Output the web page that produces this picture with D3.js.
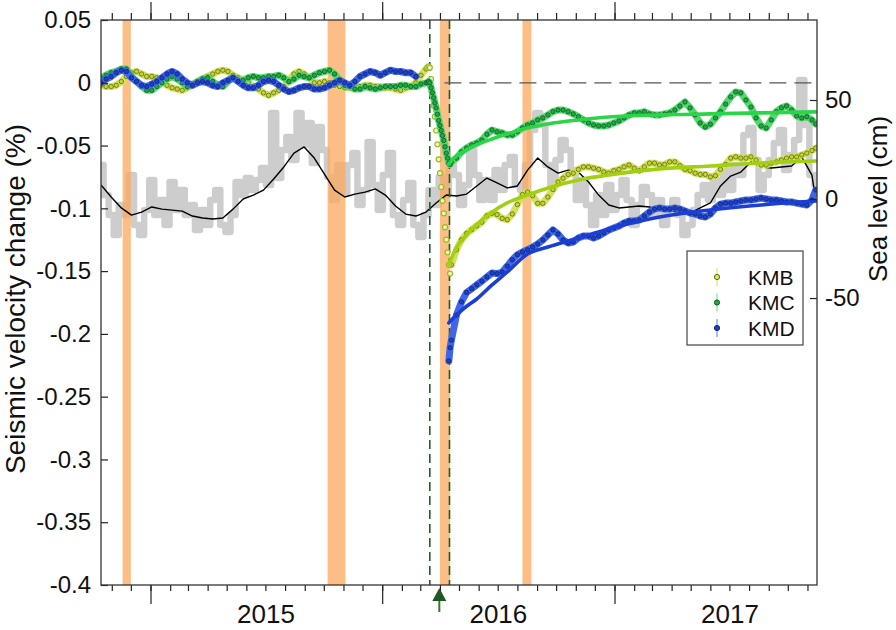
<!DOCTYPE html>
<html><head><meta charset="utf-8">
<script src="https://cdn.jsdelivr.net/npm/d3@7"></script>
<style>
body{margin:0;background:#fff}
text{font-family:"Liberation Sans",Arial,Helvetica,sans-serif;fill:#111}
</style>
</head><body>
<svg id="c" width="896" height="630"></svg>
<script>
// ---------- time grid (days after 2014-10-15) ----------
const START = new Date(2014, 9, 15);
const END = new Date(2017, 10, 16);
const preDays = d3.range(0, 513, 8);                 // 65 samples
const kmdPreDays = preDays.slice(0, 63);
const dropDays = d3.range(514, 551, 2);              // 19 samples
const postDays = d3.range(552, 1121, 8).concat([1126]); // 73 samples
const kmdDropDays = [548, 550];
const fitDays = [548, 552, 560, 576, 592, 616, 640, 672, 704, 752, 800, 880, 960, 1040, 1126];
const seaDays = d3.range(0, 1129, 8);                // 142 samples
const smoothDays = d3.range(0, 1121, 16).concat([1126]); // 72 samples

// ---------- seismic velocity change (%) ----------
const kmbPre = [-0.002,-0.003,-0.003,-0.002,0.001,0.005,0.008,0.009,0.007,0.005,
  0.005,0.004,0.001,-0.002,-0.004,-0.005,-0.006,-0.004,-0.001,0.001,
  0.003,0.005,0.007,0.009,0.010,0.009,0.006,0.004,0.002,0.000,
  -0.003,-0.005,-0.008,-0.010,-0.008,-0.006,-0.003,0.002,0.007,0.009,
  0.007,0.004,0.000,0.000,0.001,0.000,-0.002,-0.003,-0.004,-0.004,
  -0.003,-0.003,-0.002,-0.002,-0.003,-0.003,-0.004,-0.004,-0.005,-0.006,
  -0.004,-0.003,0.000,0.006,0.011];
const kmbDrop = [0.012,0.013,0.012,0.003,-0.008,-0.018,-0.027,-0.038,-0.049,-0.061,
  -0.072,-0.083,-0.094,-0.104,-0.115,-0.125,-0.135,-0.145,-0.152];
const kmbPost = [-0.145,-0.133,-0.125,-0.120,-0.117,-0.114,-0.111,-0.106,-0.104,-0.105,
  -0.108,-0.109,-0.1045,-0.097,-0.089,-0.087,-0.090,-0.096,-0.096,-0.091,
  -0.085,-0.079,-0.076,-0.073,-0.072,-0.069,-0.067,-0.067,-0.068,-0.069,
  -0.071,-0.072,-0.070,-0.069,-0.067,-0.0655,-0.068,-0.070,-0.067,-0.064,
  -0.064,-0.0655,-0.065,-0.063,-0.063,-0.066,-0.069,-0.070,-0.072,-0.073,
  -0.073,-0.075,-0.074,-0.069,-0.065,-0.060,-0.059,-0.060,-0.060,-0.059,
  -0.0615,-0.0655,-0.0655,-0.064,-0.063,-0.0615,-0.060,-0.059,-0.059,-0.0575,
  -0.056,-0.054,-0.052];
const kmbFit = [-0.145,-0.140,-0.1315,-0.121,-0.113,-0.103,-0.0957,-0.0894,-0.0838,-0.0774,
  -0.0734,-0.0686,-0.0663,-0.0639,-0.0623];

const kmcPre = [0.004,0.006,0.008,0.009,0.011,0.011,0.005,0.001,-0.003,-0.006,
  -0.006,-0.003,0.000,0.003,0.005,0.003,0.000,-0.003,-0.002,0.001,
  0.003,0.004,0.001,-0.002,-0.003,0.001,0.004,0.002,0.002,0.004,
  0.005,0.004,0.004,0.005,0.005,0.006,0.004,0.001,0.003,0.006,
  0.005,0.004,0.006,0.008,0.009,0.010,0.007,0.002,-0.002,-0.003,
  -0.005,-0.005,-0.003,-0.004,-0.005,-0.004,-0.003,-0.003,-0.003,-0.002,
  -0.002,-0.003,-0.003,-0.001,0.000];
const kmcDrop = [0.000,0.001,0.000,-0.004,-0.008,-0.012,-0.016,-0.020,-0.025,-0.030,
  -0.034,-0.038,-0.042,-0.046,-0.051,-0.056,-0.060,-0.064,-0.065];
const kmcPost = [-0.063,-0.060,-0.055,-0.052,-0.0495,-0.048,-0.0456,-0.041,-0.0376,-0.039,
  -0.040,-0.0416,-0.0416,-0.039,-0.036,-0.0336,-0.032,-0.0296,-0.028,-0.0256,
  -0.023,-0.0217,-0.0217,-0.023,-0.0248,-0.027,-0.0296,-0.032,-0.0336,-0.0344,
  -0.0344,-0.0336,-0.032,-0.0304,-0.028,-0.0256,-0.024,-0.024,-0.023,-0.0248,
  -0.0256,-0.0256,-0.0248,-0.024,-0.0217,-0.0185,-0.0153,-0.020,-0.0256,-0.032,
  -0.0352,-0.033,-0.028,-0.023,-0.017,-0.0113,-0.0073,-0.0081,-0.0137,-0.0193,
  -0.028,-0.0344,-0.036,-0.0296,-0.023,-0.020,-0.0185,-0.0217,-0.0264,-0.028,
  -0.027,-0.0296,-0.0328];
const kmcFit = [-0.0648,-0.0623,-0.0583,-0.0535,-0.0495,-0.0448,-0.0408,-0.036,-0.0328,-0.0296,
  -0.0272,-0.0256,-0.0248,-0.024,-0.0232];

const kmdPre = [0.000,0.003,0.005,0.008,0.010,0.009,0.004,0.001,-0.002,-0.003,
  -0.001,0.001,0.004,0.007,0.009,0.007,0.003,0.000,-0.002,0.000,
  0.001,0.000,-0.002,-0.003,0.000,0.002,0.004,0.001,-0.002,-0.004,
  -0.004,-0.002,0.001,0.002,0.001,-0.002,-0.005,-0.007,-0.006,-0.004,
  -0.003,-0.003,-0.005,-0.005,-0.004,-0.002,0.000,0.002,0.000,-0.002,
  0.001,0.005,0.007,0.009,0.008,0.006,0.008,0.010,0.009,0.009,
  0.008,0.008,0.005];
const kmdDrop = [-0.2215,-0.211];
const kmdPost = [-0.205,-0.185,-0.1745,-0.167,-0.164,-0.161,-0.158,-0.1547,-0.1515,-0.152,
  -0.1507,-0.146,-0.141,-0.137,-0.1348,-0.133,-0.1308,-0.1284,-0.1252,-0.1212,
  -0.1172,-0.1204,-0.1252,-0.1276,-0.1268,-0.1236,-0.122,-0.122,-0.1236,-0.122,
  -0.1196,-0.1172,-0.1156,-0.114,-0.1116,-0.110,-0.110,-0.1093,-0.1061,-0.103,
  -0.1006,-0.0997,-0.1006,-0.1006,-0.0997,-0.1006,-0.1021,-0.1037,-0.1045,-0.1061,
  -0.1069,-0.1045,-0.0997,-0.0966,-0.0958,-0.0958,-0.095,-0.0942,-0.0934,-0.0934,
  -0.0926,-0.0918,-0.0926,-0.0934,-0.0934,-0.0942,-0.095,-0.095,-0.0958,-0.0966,
  -0.0974,-0.0934,-0.0854];
const kmdFit = [-0.1913,-0.189,-0.1849,-0.178,-0.1722,-0.161,-0.1507,-0.1364,-0.1308,-0.1236,
  -0.1164,-0.1069,-0.1013,-0.0973,-0.0942];

// ---------- sea level (cm) ----------
const seaLevel = [17.2,2.0,-8.1,-18.2,-3.0,-8.1,12.1,-13.1,-18.2,-5.6,
  9.6,-8.1,-0.5,-13.1,8.6,-5.6,4.5,-8.1,-3.0,-15.7,
  -5.6,-13.1,-0.5,4.5,-13.1,-16.7,-8.1,8.6,2.0,10.6,
  4.5,9.6,15.7,7.1,43.4,10.6,24.7,31.3,19.7,43.4,
  27.3,38.4,18.2,36.4,24.7,11.1,-0.5,17.2,3.0,17.2,
  23.2,-3.0,4.5,28.8,7.1,-5.6,12.1,23.2,-8.1,-13.1,
  -0.5,8.1,-13.1,-19.2,-8.1,4.5,-3.0,11.1,2.0,18.2,
  12.1,-3.0,7.1,24.7,12.1,-0.5,9.6,-0.5,14.6,4.5,
  17.2,21.2,7.1,4.5,17.2,34.8,43.4,37.4,17.2,7.1,
  19.7,29.8,24.7,14.6,-0.5,9.6,-3.0,-13.1,2.0,-8.1,
  7.1,-5.6,2.0,9.6,-0.5,-13.1,-3.0,6.1,2.0,-8.1,
  -0.5,-13.1,-5.6,-0.5,-8.1,-18.2,-13.1,-5.6,2.0,7.1,
  -0.5,9.6,2.0,14.6,4.5,17.2,12.1,32.3,35.9,19.7,
  4.5,12.1,19.7,28.3,34.8,14.6,22.2,29.8,60.1,37.4,
  12.1,7.1];
const seaSmooth = [7.1,1.0,-4.5,-8.1,-6.6,-4.0,-5.1,-5.6,-6.1,-8.6,
  -9.6,-10.1,-9.6,-5.1,0.0,2.0,4.5,10.1,16.2,23.2,
  26.3,20.7,12.6,4.5,1.0,2.5,3.5,5.1,2.0,-3.5,
  -7.6,-8.6,-6.6,-2.0,2.0,1.5,2.5,6.6,10.6,8.1,
  5.6,6.6,14.6,20.7,16.2,13.1,14.6,13.6,8.6,2.0,
  -3.0,-4.5,-4.0,-3.5,-4.0,-5.6,-6.1,-6.6,-7.1,-4.5,
  -2.0,6.6,11.6,13.6,18.7,16.2,15.7,16.2,16.7,21.2,
  12.1,-0.5];

// ---------- annotations ----------
const rainBands = [["2014-11-18","2014-12-01"],["2015-10-07","2015-11-04"],["2016-04-01","2016-04-17"],["2016-08-09","2016-08-23"]];
const quakeLines = ["2016-03-16","2016-04-16"];
const arrowDate = "2016-03-31";
const zeroLineStart = "2016-04-08";
const yearLabels = ["2015","2016","2017"];
const leftTicks = [0.05,0,-0.05,-0.1,-0.15,-0.2,-0.25,-0.3,-0.35,-0.4];
const rightTicks = [-50,0,50];
const stations = ["KMB","KMC","KMD"];

// ---------- setup ----------
const parse = d3.timeParse("%Y-%m-%d");
const day = d => d3.timeDay.offset(START, d);
const M = {l:101, r:817, t:20, b:585};
const svg = d3.select("#c");
const x = d3.scaleTime().domain([START, END]).range([M.l, M.r]);
const yL = d3.scaleLinear().domain([-0.4, 0.05]).range([M.b, M.t]);
const yR = d3.scaleLinear().domain([-194.9, 90.4]).range([M.b, M.t]);
const zip = (days, vals) => days.map((d, i) => [d, vals[i]]);

svg.append("defs").append("clipPath").attr("id","clip")
  .append("rect").attr("x",M.l).attr("y",M.t).attr("width",M.r-M.l).attr("height",M.b-M.t);
const plot = svg.append("g").attr("clip-path","url(#clip)");

// sea level raw (thick gray)
plot.append("path")
  .attr("d", d3.line().curve(d3.curveStep).x(d=>x(day(d[0]))).y(d=>yR(d[1]))(zip(seaDays, seaLevel)))
  .attr("fill","none").attr("stroke","#cdcdcd").attr("stroke-width",6.5).attr("stroke-linejoin","round");

// rain / orange bands
plot.selectAll("rect.band").data(rainBands).join("rect").attr("class","band")
  .attr("x", d => x(parse(d[0]))).attr("width", d => x(parse(d[1])) - x(parse(d[0])))
  .attr("y", M.t).attr("height", M.b - M.t)
  .attr("fill", "#fba85c").attr("opacity", 0.75);

// sea level smoothed (black)
plot.append("path")
  .attr("d", d3.line().x(d=>x(day(d[0]))).y(d=>yR(d[1]))(zip(smoothDays, seaSmooth)))
  .attr("fill","none").attr("stroke","#000").attr("stroke-width",1.4).attr("stroke-linejoin","round");

// quake dashed lines
plot.selectAll("line.q").data(quakeLines).join("line").attr("class","q")
  .attr("x1", d=>x(parse(d))).attr("x2", d=>x(parse(d))).attr("y1", M.t).attr("y2", M.b)
  .attr("stroke","#1d5e2a").attr("stroke-width",1.6).attr("stroke-dasharray","9,5");
// zero reference dashed
plot.append("line").attr("x1", x(parse(zeroLineStart))).attr("x2", M.r)
  .attr("y1", yL(0)).attr("y2", yL(0))
  .attr("stroke","#555").attr("stroke-width",1.3).attr("stroke-dasharray","17,8");

const lineGen = d3.line().x(d=>x(day(d[0]))).y(d=>yL(d[1]));
function band(pts, color, w) {
  plot.append("path").attr("d", lineGen(pts)).attr("fill","none")
    .attr("stroke", color).attr("stroke-width", w).attr("stroke-linejoin","round").attr("stroke-linecap","round");
}
function dots(pts, fill, stroke, r, sw) {
  plot.append("g").selectAll("circle").data(pts).join("circle")
    .attr("cx", d=>x(day(d[0]))).attr("cy", d=>yL(d[1])).attr("r", r)
    .attr("fill", fill).attr("stroke", stroke).attr("stroke-width", sw);
}
function fit(vals, color) {
  plot.append("path").attr("d", d3.line().curve(d3.curveMonotoneX).x(d=>x(day(d[0]))).y(d=>yL(d[1]))(zip(fitDays, vals)))
    .attr("fill","none").attr("stroke", color).attr("stroke-width", 3.6).attr("stroke-linecap","round");
}

// KMB
const kmbA = zip(preDays, kmbPre), kmbB = zip(postDays, kmbPost);
band(kmbA, "#d3e25a", 7); band(kmbB, "#d3e25a", 7);
dots(kmbA, "#c2d43a", "#5e6c0e", 2.2, 0.8); dots(kmbB, "#c2d43a", "#5e6c0e", 2.2, 0.8);
dots(zip(dropDays, kmbDrop), "#eef6b8", "#9db823", 2.5, 1.2);
// KMC
const kmcAll = zip(preDays, kmcPre).concat(zip(dropDays, kmcDrop), zip(postDays, kmcPost));
band(kmcAll, "#52d86c", 7);
dots(kmcAll, "#22a843", "#0d5a22", 2.2, 0.8);
// KMD
const kmdA = zip(kmdPreDays, kmdPre), kmdB = zip(kmdDropDays, kmdDrop).concat(zip(postDays, kmdPost));
band(kmdA, "#3f66e8", 7); band(kmdB, "#3f66e8", 7);
dots(kmdA, "#1d40c6", "#0c2479", 2.2, 0.8); dots(kmdB, "#1d40c6", "#0c2479", 2.2, 0.8);
// fits
fit(kmbFit, "#a2cf12");
fit(kmcFit, "#2ad548");
fit(kmdFit, "#1b3fd4");

// ---------- axes ----------
function timeAxis(gen, y, size) {
  const g = svg.append("g").attr("transform", `translate(0,${y})`).call(gen.tickSize(size).tickFormat(""));
  g.select(".domain").remove();
  g.selectAll("line").attr("stroke","#222").attr("stroke-width",1.2);
}
timeAxis(d3.axisBottom(x).ticks(d3.timeMonth.every(1)), M.b, 6);
timeAxis(d3.axisBottom(x).ticks(d3.timeYear.every(1)), M.b, 19);
timeAxis(d3.axisTop(x).ticks(d3.timeMonth.every(1)), M.t, 7);
timeAxis(d3.axisTop(x).ticks(d3.timeYear.every(1)), M.t, 18);

svg.append("g").selectAll("text").data(yearLabels).join("text")
  .attr("x", d => x(new Date(+d, 6, 2))).attr("y", 623)
  .attr("text-anchor","middle").attr("font-size", 26).text(d => d);

const gl = svg.append("g").attr("transform", `translate(${M.l},0)`)
  .call(d3.axisLeft(yL).tickValues(leftTicks).tickSize(-7).tickPadding(10).tickFormat(d => String(+d.toFixed(2))));
gl.select(".domain").remove();
gl.selectAll("line").attr("stroke","#222").attr("stroke-width",1.2);
gl.selectAll("text").attr("font-size",24).attr("font-family",'"Liberation Sans",Arial,sans-serif').attr("fill","#111");

const gr = svg.append("g").attr("transform", `translate(${M.r},0)`)
  .call(d3.axisRight(yR).tickValues(rightTicks).tickSize(-7).tickPadding(8).tickFormat(d => String(d)));
gr.select(".domain").remove();
gr.selectAll("line").attr("stroke","#222").attr("stroke-width",1.2);
gr.selectAll("text").attr("font-size",24).attr("font-family",'"Liberation Sans",Arial,sans-serif').attr("fill","#111");

// frame
svg.append("rect").attr("x",M.l).attr("y",M.t).attr("width",M.r-M.l).attr("height",M.b-M.t)
  .attr("fill","none").attr("stroke","#333").attr("stroke-width",1.3);

// titles
svg.append("text").attr("transform","translate(25,299) rotate(-90)").attr("text-anchor","middle")
  .attr("font-size",28).text("Seismic velocity change (%)");
svg.append("text").attr("transform","translate(887,199) rotate(-90)").attr("text-anchor","middle")
  .attr("font-size",26).text("Sea level (cm)");

// arrow
const ax0 = x(parse(arrowDate));
svg.append("line").attr("x1",ax0).attr("x2",ax0).attr("y1",598).attr("y2",612)
  .attr("stroke","#2f7a2a").attr("stroke-width",2);
svg.append("path").attr("d",`M${ax0},588 L${ax0-7},601 L${ax0+7},601 Z`).attr("fill","#1c5a22");

// legend
const lg = svg.append("g").attr("transform","translate(687,251)");
lg.append("rect").attr("width",116).attr("height",94).attr("fill","#fff").attr("stroke","#444").attr("stroke-width",1.2);
const legStyle = [
  {err:"#e4ee8a", fill:"#d9e66a", stroke:"#5e6c0e", r:2.6},
  {err:"#9fe8b0", fill:"#22a843", stroke:"#0d5a22", r:2.6},
  {err:"#9db0f0", fill:"#1d40c6", stroke:"#0c2479", r:2.6}
];
stations.forEach((s, i) => {
  const cy = 26 + i * 25.5;
  lg.append("line").attr("x1",30).attr("x2",30).attr("y1",cy-9).attr("y2",cy+9)
    .attr("stroke",legStyle[i].err).attr("stroke-width",1.6);
  lg.append("circle").attr("cx",30).attr("cy",cy).attr("r",legStyle[i].r)
    .attr("fill",legStyle[i].fill).attr("stroke",legStyle[i].stroke).attr("stroke-width",1);
  lg.append("text").attr("x",61).attr("y",cy+7.5).attr("font-size",21).text(s);
});
</script>
</body></html>
